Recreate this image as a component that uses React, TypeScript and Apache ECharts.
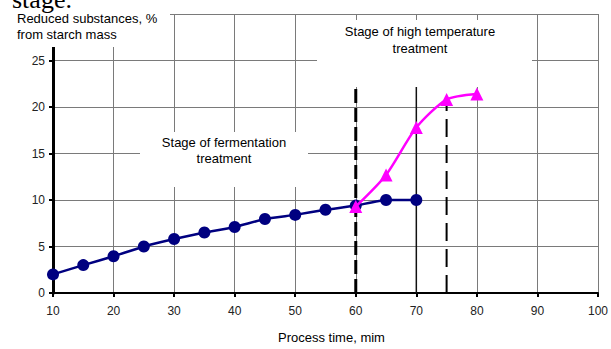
import React, { useEffect, useRef } from "react";
import * as echarts from "echarts";

const timeFermentation = [10, 15, 20, 25, 30, 35, 40, 45, 50, 55, 60, 65, 70];
const valuesFermentation = [2, 3, 3.95, 5, 5.8, 6.5, 7.1, 7.95, 8.4, 8.95, 9.4, 10, 10];
const timeHighTemp = [60, 65, 70, 75, 80];
const valuesHighTemp = [9.3, 12.7, 17.8, 20.8, 21.4];
const stageStartTimes = [60, 75];
const stageLineTops = [22.2, 20.6];
const yTickHidden = [30];

const FONT = "'Liberation Sans', Arial, sans-serif";

export default function App() {
  const ref = useRef<HTMLDivElement>(null);
  useEffect(() => {
    if (!ref.current) return;
    const chart = echarts.init(ref.current, null, { renderer: "svg" });
    const blue = timeFermentation.map((t, i) => [t, valuesFermentation[i]]);
    const pink = timeHighTemp.map((t, i) => [t, valuesHighTemp[i]]);
    chart.setOption({
      animation: false,
      backgroundColor: "#ffffff",
      grid: { left: 53, right: 10, top: 14, bottom: 52 },
      xAxis: {
        type: "value",
        min: 10,
        max: 100,
        interval: 10,
        name: "Process time, mim",
        nameLocation: "middle",
        nameGap: 38,
        nameTextStyle: { fontFamily: FONT, fontSize: 13, color: "#000", padding: [0, 0, 0, 12] },
        axisLine: { lineStyle: { color: "#000", width: 2 } },
        axisTick: { show: true, length: 4, lineStyle: { color: "#000", width: 2 } },
        axisLabel: { fontFamily: FONT, fontSize: 12, color: "#222", margin: 12 },
        splitLine: { show: true, lineStyle: { color: "#7a7a7a", width: 1 } },
      },
      yAxis: {
        type: "value",
        min: 0,
        max: 30,
        interval: 5,
        axisLine: { show: true, lineStyle: { color: "#000", width: 3 } },
        axisTick: { show: true, length: 4, lineStyle: { color: "#000", width: 2 } },
        axisLabel: {
          fontFamily: FONT,
          fontSize: 12,
          color: "#222",
          margin: 8,
          formatter: (v: number) => (yTickHidden.includes(v) ? "" : String(v)),
        },
        splitLine: { show: true, lineStyle: { color: "#7a7a7a", width: 1 } },
      },
      graphic: [
        { type: "rect", z: 50, shape: { x: 0, y: 0, width: 170, height: 47 }, style: { fill: "#fff" } },
        { type: "rect", z: 50, shape: { x: 317, y: 20, width: 215, height: 67 }, style: { fill: "#fff" } },
        { type: "rect", z: 50, shape: { x: 140, y: 132, width: 168, height: 55 }, style: { fill: "#fff" } },
        {
          type: "text", z: 60, x: 12, y: 12,
          style: { text: "stage.", font: "26px 'Liberation Serif', 'Times New Roman', serif", fill: "#000", verticalAlign: "bottom" },
        },
        {
          type: "text", z: 60, x: 17, y: 10,
          style: { text: "Reduced substances, %\nfrom starch mass", font: `13px ${FONT}`, fill: "#000", lineHeight: 16 },
        },
        {
          type: "text", z: 60, x: 420, y: 23,
          style: { text: "Stage of high temperature\ntreatment", font: `13px ${FONT}`, fill: "#000", align: "center", lineHeight: 17 },
        },
        {
          type: "text", z: 60, x: 224, y: 134,
          style: { text: "Stage of fermentation\ntreatment", font: `13px ${FONT}`, fill: "#000", align: "center", lineHeight: 16 },
        },
      ],
      series: [
        {
          type: "line",
          data: [[70, 0], [70, 22.2]],
          symbol: "none",
          silent: true,
          lineStyle: { color: "#111", width: 1.5 },
          z: 1,
        },
        {
          type: "line",
          data: [[stageStartTimes[0], 0], [stageStartTimes[0], stageLineTops[0]]],
          symbol: "none",
          silent: true,
          lineStyle: { color: "#000", width: 3, type: [14, 5] },
          z: 1,
        },
        {
          type: "line",
          data: [[stageStartTimes[1], 0], [stageStartTimes[1], stageLineTops[1]]],
          symbol: "none",
          silent: true,
          lineStyle: { color: "#000", width: 2, type: [18, 8] },
          z: 1,
        },
        {
          type: "line",
          data: blue,
          smooth: 0.15,
          symbol: "circle",
          symbolSize: 12,
          itemStyle: { color: "#000080" },
          lineStyle: { color: "#000080", width: 2.5 },
          z: 3,
        },
        {
          type: "line",
          data: pink,
          smooth: 0.25,
          symbol: "triangle",
          symbolSize: 13,
          itemStyle: { color: "#ff00ff" },
          lineStyle: { color: "#ff00ff", width: 2.5 },
          z: 4,
        },
      ],
    });
    return () => chart.dispose();
  }, []);
  return <div ref={ref} style={{ position: "absolute", left: 0, top: 0, width: 611, height: 349 }} />;
}
